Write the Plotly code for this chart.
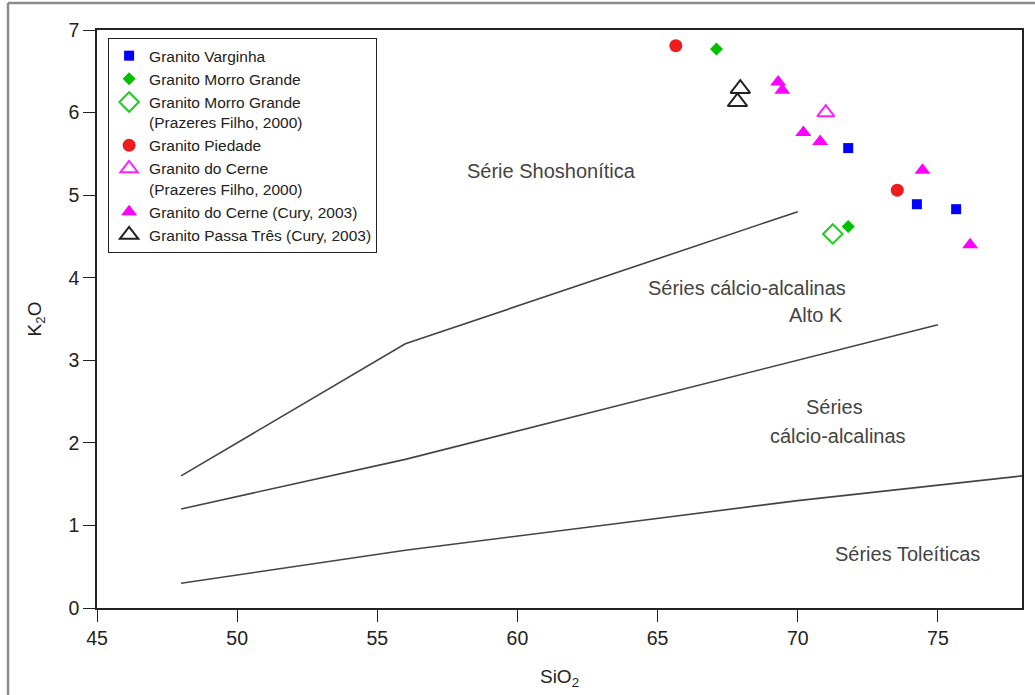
import plotly.graph_objects as go

# ---- data ----
varginha_x = [71.8, 74.25, 75.65]
varginha_y = [5.57, 4.89, 4.83]

morro_x = [67.1, 71.8]
morro_y = [6.77, 4.62]

morro_pf_x = [71.25]
morro_pf_y = [4.53]

piedade_x = [65.65, 73.55]
piedade_y = [6.81, 5.06]

cerne_pf_x = [71.0]
cerne_pf_y = [6.0]

cerne_cury_x = [69.3, 69.45, 70.2, 70.8, 74.45, 76.15]
cerne_cury_y = [6.37, 6.27, 5.76, 5.65, 5.30, 4.40]

passa_x = [67.95, 67.85]
passa_y = [6.29, 6.13]

# series boundary lines
shosho_x = [48, 56, 70]
shosho_y = [1.6, 3.2, 4.8]
highk_x = [48, 56, 63, 70, 75]
highk_y = [1.2, 1.8, 2.4, 3.0, 3.43]
thol_x = [48, 52, 56, 63, 70, 78]
thol_y = [0.3, 0.5, 0.7, 1.0, 1.3, 1.6]

x_ticks = [45, 50, 55, 60, 65, 70, 75]
y_ticks = [0, 1, 2, 3, 4, 5, 6, 7]

FONT = "Liberation Sans, Arial, sans-serif"
fig = go.Figure()

for lx, ly in [(shosho_x, shosho_y), (highk_x, highk_y), (thol_x, thol_y)]:
    fig.add_trace(go.Scatter(x=lx, y=ly, mode="lines", showlegend=False,
                             line=dict(color="#444444", width=1.6), hoverinfo="skip"))

fig.add_trace(go.Scatter(x=varginha_x, y=varginha_y, mode="markers", name="Granito Varginha",
                         marker=dict(symbol="square", size=10, color="#0000ff")))
fig.add_trace(go.Scatter(x=morro_x, y=morro_y, mode="markers", name="Granito Morro Grande",
                         marker=dict(symbol="diamond", size=10, color="#00c000")))
fig.add_trace(go.Scatter(x=morro_pf_x, y=morro_pf_y, mode="markers",
                         name="Granito Morro Grande<br>(Prazeres Filho, 2000)",
                         marker=dict(symbol="diamond-open", size=15, color="#22cc22",
                                     line=dict(width=2, color="#22cc22"))))
fig.add_trace(go.Scatter(x=piedade_x, y=piedade_y, mode="markers", name="Granito Piedade",
                         marker=dict(symbol="circle", size=13, color="#ee1c1c")))
fig.add_trace(go.Scatter(x=cerne_pf_x, y=cerne_pf_y, mode="markers",
                         name="Granito do Cerne<br>(Prazeres Filho, 2000)",
                         marker=dict(symbol="triangle-up-open", size=15, color="#ff22ff",
                                     line=dict(width=2, color="#ff22ff"))))
fig.add_trace(go.Scatter(x=cerne_cury_x, y=cerne_cury_y, mode="markers",
                         name="Granito do Cerne (Cury, 2003)",
                         marker=dict(symbol="triangle-up", size=14, color="#ff00ff")))
fig.add_trace(go.Scatter(x=passa_x, y=passa_y, mode="markers",
                         name="Granito Passa Três (Cury, 2003)",
                         marker=dict(symbol="triangle-up-open", size=17, color="#222222",
                                     line=dict(width=2, color="#222222"))))

txt = dict(color="#444444", size=20, family=FONT)
annots = [
    dict(x=61.2, y=5.29, text="Série Shoshonítica"),
    dict(x=68.2, y=3.87, text="Séries cálcio-alcalinas"),
    dict(x=70.65, y=3.55, text="Alto K"),
    dict(x=71.3, y=2.44, text="Séries"),
    dict(x=71.45, y=2.08, text="cálcio-alcalinas"),
    dict(x=73.9, y=0.66, text="Séries Toleíticas"),
]
for a in annots:
    fig.add_annotation(x=a["x"], y=a["y"], text=a["text"], showarrow=False,
                       font=txt, xref="x", yref="y")

# outer frame (top and left edges)
fig.add_shape(type="line", xref="paper", yref="paper", x0=-0.0962, x1=1.02,
              y0=1.0465, y1=1.0465, line=dict(color="#8a8a8a", width=2.5))
fig.add_shape(type="line", xref="paper", yref="paper", x0=-0.0962, x1=-0.0962,
              y0=-0.2, y1=1.0465, line=dict(color="#8a8a8a", width=2.5))

axis_common = dict(showline=True, linecolor="#222222", linewidth=1.5, mirror=True,
                   ticks="outside", ticklen=12, tickwidth=1.3, tickcolor="#222222",
                   showgrid=False, zeroline=False,
                   tickfont=dict(size=19.5, color="#222222", family=FONT))

fig.update_xaxes(range=[45, 78], tickvals=x_ticks,
                 title=dict(text="SiO<sub>2</sub>", font=dict(size=19, color="#222222", family=FONT),
                            standoff=22),
                 **axis_common)
fig.update_yaxes(range=[0, 7], tickvals=y_ticks,
                 title=dict(text="K<sub>2</sub>O", font=dict(size=19, color="#222222", family=FONT),
                            standoff=22),
                 **axis_common)

fig.update_layout(
    width=1035, height=695,
    margin=dict(l=97, r=13, t=30, b=87),
    paper_bgcolor="white", plot_bgcolor="white",
    font=dict(family=FONT),
    legend=dict(x=0.012, y=0.986, xanchor="left", yanchor="top",
                bgcolor="white", bordercolor="#222222", borderwidth=1,
                font=dict(size=15.5, color="#222222", family=FONT),
                tracegroupgap=0, valign="top", itemwidth=30),
)

fig.write_html("out.html")
